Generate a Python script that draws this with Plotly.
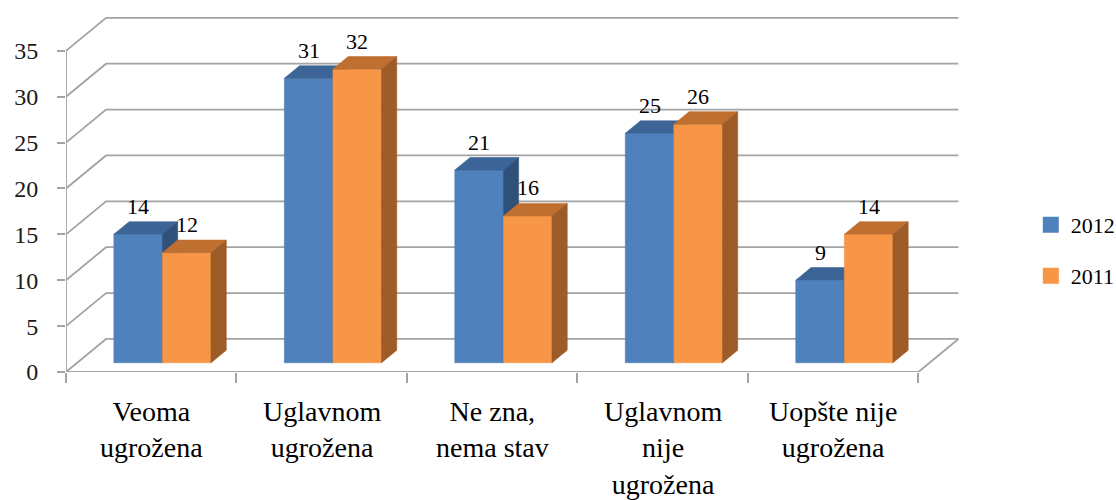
import plotly.graph_objects as go

# ---- data ----
categories = ["Veoma<br>ugrožena", "Uglavnom<br>ugrožena", "Ne zna,<br>nema stav",
              "Uglavnom<br>nije<br>ugrožena", "Uopšte nije<br>ugrožena"]
series_names = ["2012", "2011"]
values_2012 = [14, 31, 21, 25, 9]
values_2011 = [12, 32, 16, 26, 14]
y_ticks = [0, 5, 10, 15, 20, 25, 30, 35]

# ---- style / 3D geometry (in axis units) ----
DX, DY = 0.235, 3.6        # wall depth offset
F = 0.28                   # depth position of bar fronts
FB = 0.38                  # bar depth
W = 0.285                  # bar width
FONT = "Liberation Serif"
GRID = "#A3A3A3"
colors = {
    "2012": dict(front="#4F81BD", top="#3C6496", side="#2F5079"),
    "2011": dict(front="#F79646", top="#BF6F30", side="#9D5B28"),
}

n = len(categories)
ymax = max(y_ticks)
fig = go.Figure()

# walls / grid
gx, gy = [], []
for v in y_ticks:
    gx += [0, DX, n + DX, None]
    gy += [v, v + DY, v + DY, None]
gx += [0, 0, None, 0, n, n + DX, None]
gy += [0, ymax, None, 0, 0, DY, None]
fig.add_trace(go.Scatter(x=gx, y=gy, mode="lines", line=dict(color=GRID, width=1.8),
                         hoverinfo="skip", showlegend=False))

ddx, ddy = FB * DX, FB * DY
annotations = []
for s, (name, vals) in enumerate(zip(series_names, [values_2012, values_2011])):
    faces = {"front": ([], []), "top": ([], []), "side": ([], [])}
    for i, v in enumerate(vals):
        x0 = i + 0.5 + F * DX + (s - 1) * W
        x1 = x0 + W
        y0 = F * DY
        y1 = y0 + v
        fx, fy = faces["front"]
        fx += [x0, x1, x1, x0, x0, None]
        fy += [y0, y0, y1, y1, y0, None]
        tx, ty = faces["top"]
        tx += [x0, x1, x1 + ddx, x0 + ddx, x0, None]
        ty += [y1, y1, y1 + ddy, y1 + ddy, y1, None]
        sx, sy = faces["side"]
        sx += [x1, x1 + ddx, x1 + ddx, x1, x1, None]
        sy += [y0, y0 + ddy, y1 + ddy, y1, y0, None]
        annotations.append(dict(x=(x0 + x1) / 2, y=y1 + ddy, xref="x", yref="y",
                                text=str(v), showarrow=False, yanchor="bottom",
                                yshift=1, font=dict(family=FONT, size=22, color="#000000")))
    for face in ["front", "top", "side"]:
        xs, ys = faces[face]
        c = colors[name][face]
        fig.add_trace(go.Scatter(x=xs, y=ys, mode="lines", fill="toself", fillcolor=c,
                                 line=dict(color=c, width=0.6), hoverinfo="skip",
                                 showlegend=False))

# legend entries
legend_y = {"2012": 0.413, "2011": 0.27}
for k, name in enumerate(series_names):
    fig.add_trace(go.Scatter(x=[None], y=[None], mode="markers", name=name,
                             marker=dict(symbol="square", size=16, color=colors[name]["front"]),
                             legend="legend" if k == 0 else "legend2"))

for i, c in enumerate(categories):
    annotations.append(dict(x=i + 0.5, y=0, xref="x", yref="y", text=c, showarrow=False,
                            yanchor="top", yshift=-22, align="center",
                            font=dict(family=FONT, size=28, color="#000000")))

legend_common = dict(xanchor="left", yanchor="middle", x=1.078,
                     font=dict(family=FONT, size=22, color="#000000"),
                     bgcolor="rgba(0,0,0,0)")
fig.update_layout(
    width=1116, height=500,
    margin=dict(l=66, r=155, t=16, b=128, autoexpand=False),
    plot_bgcolor="white", paper_bgcolor="white",
    showlegend=True,
    legend=dict(y=legend_y["2012"], **legend_common),
    legend2=dict(y=legend_y["2011"], **legend_common),
    annotations=annotations,
    xaxis=dict(range=[0, n + 0.25], showgrid=False, zeroline=False, showline=False,
               automargin=False,
               tickmode="array", tickvals=list(range(n + 1)), ticktext=[""] * (n + 1),
               ticks="outside", ticklen=10, tickwidth=1.8, tickcolor=GRID, fixedrange=True),
    yaxis=dict(range=[0, 38.8], showgrid=False, zeroline=False, showline=False,
               automargin=False,
               tickmode="array", tickvals=y_ticks, ticks="outside", ticklen=8,
               tickwidth=1.8, tickcolor=GRID, ticklabelstandoff=14,
               tickfont=dict(family=FONT, size=24, color="#1a1a1a"), fixedrange=True),
)

fig.write_html("out.html", config={"displayModeBar": False},
               post_script="document.body.style.margin='0';document.body.style.overflow='hidden';")
